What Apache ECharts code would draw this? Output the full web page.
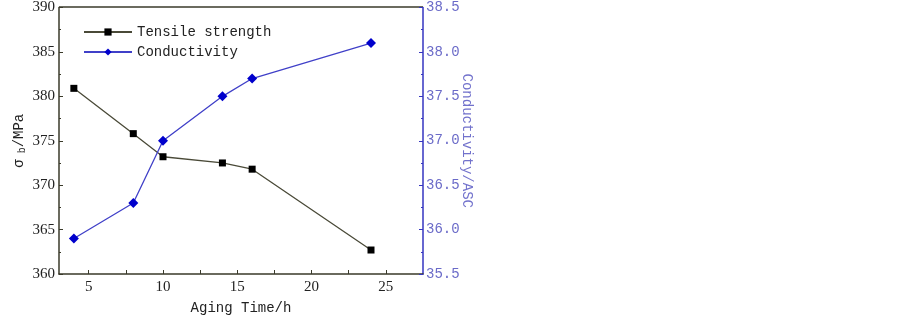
<!DOCTYPE html>
<html>
<head>
<meta charset="utf-8">
<script src="https://cdn.jsdelivr.net/npm/echarts@6/dist/echarts.min.js"></script>
<style>
  html, body { margin: 0; padding: 0; background: #fff; }
  #chart { width: 903px; height: 320px; }
</style>
</head>
<body>
<div id="chart"></div>
<script>
// aging time (h)
const agingTime = [4, 8, 10, 14, 16, 24];
// tensile strength, MPa
const tensile = [380.9, 375.8, 373.2, 372.5, 371.8, 362.7];
// conductivity, %IACS
const conductivity = [35.9, 36.3, 37.0, 37.5, 37.7, 38.1];

const xLabels = [5, 10, 15, 20, 25];
const xMinorTicks = [5, 7.5, 10, 12.5, 15, 17.5, 20, 22.5, 25];

const serif = 'Liberation Serif';
const mono = 'Liberation Mono';
const dark = '#3a3a2a';
const blue = '#3535c0';

const chart = echarts.init(document.getElementById('chart'));

let option = {
  animation: false,
  backgroundColor: '#fff',
  grid: { left: 59, right: 480, top: 7, bottom: 43 },
  legend: {
    orient: 'vertical',
    left: 78,
    top: 20,
    itemWidth: 48,
    itemHeight: 9,
    itemGap: 6,
    textStyle: { fontFamily: mono, fontSize: 14, color: '#222' },
    data: ['Tensile strength', 'Conductivity']
  },
  xAxis: {
    type: 'value',
    min: 3,
    max: 27.5,
    name: 'Aging Time/h',
    nameLocation: 'middle',
    nameGap: 27,
    nameTextStyle: { fontFamily: mono, fontSize: 14, color: '#222' },
    axisLine: { lineStyle: { color: dark, width: 1.5 } },
    axisTick: { inside: true, length: 4, customValues: xMinorTicks, lineStyle: { color: dark } },
    axisLabel: { customValues: xLabels, fontFamily: serif, fontSize: 15, color: '#222', margin: 6 },
    splitLine: { show: false }
  },
  yAxis: [
    {
      type: 'value',
      min: 360,
      max: 390,
      interval: 5,
      position: 'left',
      name: '{a|σ}{b| b}{a|/MPa}',
      nameLocation: 'middle',
      nameGap: 32,
      nameMoveOverlap: false,
      nameTextStyle: {
        rich: {
          a: { fontFamily: mono, fontSize: 14, color: '#222' },
          b: { fontFamily: mono, fontSize: 10, color: '#222', verticalAlign: 'bottom', padding: [6, 0, 0, 0] }
        }
      },
      axisLine: { show: true, lineStyle: { color: dark, width: 1.5 } },
      axisTick: { inside: true, length: 4, lineStyle: { color: dark } },
      minorTick: { show: true, splitNumber: 2, length: 2, lineStyle: { color: dark } },
      axisLabel: { fontFamily: serif, fontSize: 15, color: '#222', margin: 4 },
      splitLine: { show: false }
    },
    {
      type: 'value',
      min: 35.5,
      max: 38.5,
      interval: 0.5,
      position: 'right',
      name: 'Conductivity/ASC',
      nameLocation: 'middle',
      nameRotate: -90,
      nameGap: 37,
      nameMoveOverlap: false,
      nameTextStyle: { fontFamily: mono, fontSize: 14, color: '#7272cc' },
      axisLine: { show: true, lineStyle: { color: blue, width: 1.5 } },
      axisTick: { inside: true, length: 4, lineStyle: { color: blue } },
      minorTick: { show: true, splitNumber: 2, length: 2, lineStyle: { color: blue } },
      axisLabel: {
        fontFamily: mono, fontSize: 14, color: '#6a6ac8', margin: 3,
        formatter: v => v.toFixed(1)
      },
      splitLine: { show: false }
    }
  ],
  series: [
    {
      name: 'Tensile strength',
      type: 'line',
      yAxisIndex: 0,
      data: agingTime.map((t, i) => [t, tensile[i]]),
      symbol: 'rect',
      symbolSize: 7,
      itemStyle: { color: '#000' },
      lineStyle: { color: '#4a4a38', width: 1.3 }
    },
    {
      name: 'Conductivity',
      type: 'line',
      yAxisIndex: 1,
      data: agingTime.map((t, i) => [t, conductivity[i]]),
      symbol: 'diamond',
      symbolSize: 10,
      itemStyle: { color: '#0000cc' },
      lineStyle: { color: '#4040c8', width: 1.3 }
    }
  ],
  graphic: [
    { type: 'line', shape: { x1: 59, y1: 7, x2: 423, y2: 7 }, style: { stroke: dark, lineWidth: 1.5 } }
  ]
};

chart.setOption(option);
</script>
</body>
</html>
